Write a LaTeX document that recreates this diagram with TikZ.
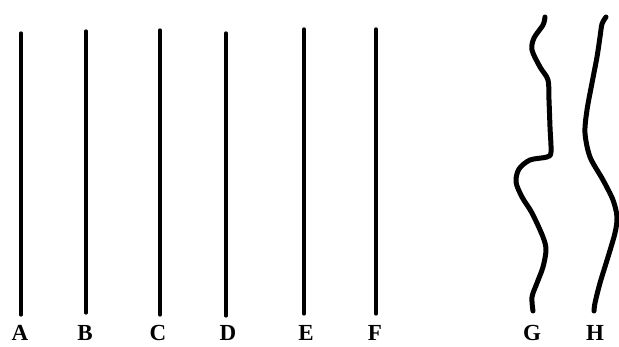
\documentclass[tikz,border=0pt]{standalone}
\usepackage{fontspec}
\setmainfont{Liberation Serif}
\begin{document}
\begin{tikzpicture}[x=1pt,y=-1pt,
  straight/.style={line width=3.2pt,line cap=round},
  wavy/.style={line width=5pt,line cap=round,line join=round},
  lbl/.style={font=\fontsize{23}{23}\selectfont\bfseries,inner sep=0pt,text depth=0pt,text height=15pt,anchor=base}]
\useasboundingbox (0,0) rectangle (619,347);
\coordinate (At) at (21,33); \coordinate (Ab) at (21,315);
\coordinate (Bt) at (86,31); \coordinate (Bb) at (86,313);
\coordinate (Ct) at (160,30); \coordinate (Cb) at (160,315);
\coordinate (Dt) at (226,33); \coordinate (Db) at (226,316);
\coordinate (Et) at (304,29); \coordinate (Eb) at (304,314);
\coordinate (Ft) at (376,29); \coordinate (Fb) at (376,314);
\foreach \n in {A,B,C,D,E,F} \draw[straight] (\n t) -- (\n b);
\draw[wavy] plot[smooth,tension=0.5] coordinates {(545,17) (543,25) (534,38) (532,50) (540,67) (548,80) (549,100) (550,127) (551,152) (547,157) (530,160) (519,169) (516,182) (522,197) (532,213) (543,237) (546,250) (543,267) (537,283) (532,297) (533,311)};
\draw[wavy] plot[smooth,tension=0.5] coordinates {(606,17) (602,24) (600,37) (597,57) (592,83) (587,110) (585,133) (590,157) (603,180) (613,200) (617,217) (615,233) (608,257) (600,283) (595,303) (594,311)};
\node[lbl] (A) at (20,341) {A};
\node[lbl] (B) at (85,341) {B};
\node[lbl] (C) at (158,341) {C};
\node[lbl] (D) at (228,341) {D};
\node[lbl] (E) at (306,341) {E};
\node[lbl] (F) at (375,341) {F};
\node[lbl] (G) at (532,341) {G};
\node[lbl] (H) at (595,341) {H};
\end{tikzpicture}
\end{document}
